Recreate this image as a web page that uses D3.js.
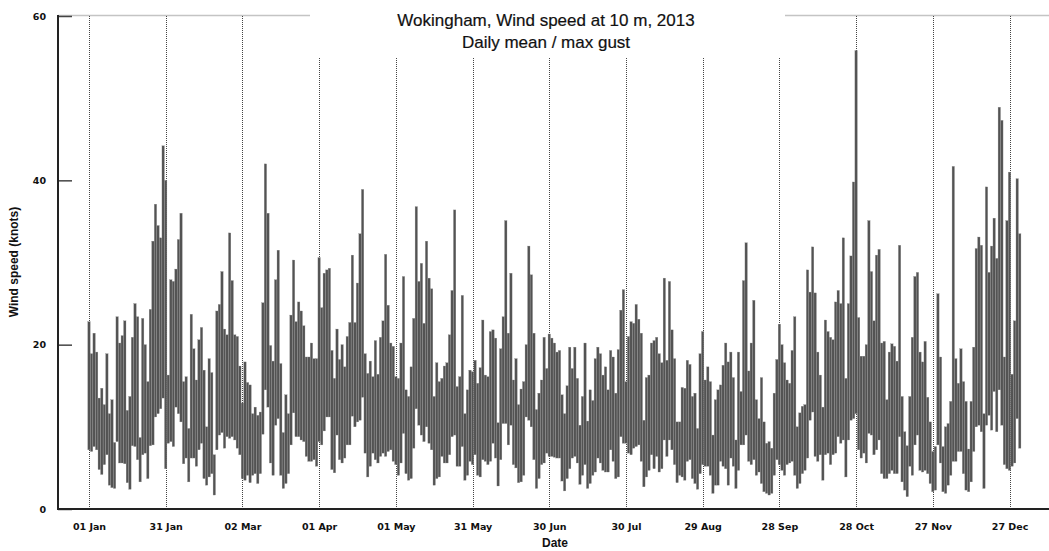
<!DOCTYPE html>
<html>
<head>
<meta charset="utf-8">
<script src="https://d3js.org/d3.v7.min.js"></script>
<style>
  body{margin:0;background:#fff;}
  .xaxis text, .yaxis text{font-family:"DejaVu Sans",Verdana,sans-serif;font-weight:bold;font-size:9.5px;fill:#111;}
  .title{font-family:"Liberation Sans",Arial,sans-serif;font-size:17px;fill:#111;stroke:#111;stroke-width:0.2px;}
  .axislabel{font-family:"Liberation Sans",Arial,sans-serif;font-weight:bold;font-size:12px;fill:#111;}
</style>
</head>
<body>
<script>
(function(){

  //pseudo-global variables
  var tickDays = [0, 30, 60, 90, 120, 150, 180, 210, 240, 270, 300, 330, 360]; //day of year for each date tick
  var tickLabels = ["01 Jan", "31 Jan", "02 Mar", "01 Apr", "01 May", "31 May", "30 Jun", "30 Jul", "29 Aug", "28 Sep", "28 Oct", "27 Nov", "27 Dec"];
  var yTicks = [0, 20, 40, 60];

  //daily max gust (knots), 1 Jan - 31 Dec 2013
  var gust = [
    22.8, 18.9, 21.4, 19.1, 13.5, 14.7, 12.7, 18.9, 11.6, 13.3,
    8.1, 23.4, 20.2, 21.1, 22.9, 12.0, 13.7, 20.9, 25.0, 23.4,
    8.7, 23.2, 20.0, 15.5, 24.3, 32.6, 37.1, 34.5, 33.0, 44.2,
    40.0, 16.3, 27.9, 27.7, 29.2, 32.8, 36.0, 15.5, 16.1, 9.8,
    23.7, 19.5, 15.7, 20.6, 22.1, 16.9, 10.0, 18.3, 16.6, 6.6,
    24.1, 24.9, 28.9, 21.9, 21.2, 33.6, 27.8, 21.2, 21.0, 17.4,
    12.9, 17.9, 15.4, 15.1, 11.6, 12.4, 11.4, 11.8, 25.1, 42.0,
    36.0, 19.9, 18.0,
    27.9, 31.5, 17.7, 9.3, 13.9, 11.6, 23.6, 30.3, 22.8, 25.2,
    24.1, 22.3, 18.5, 18.5, 20.2, 18.3, 18.3, 30.6, 24.5, 28.7,
    29.1, 29.3, 19.3, 15.9, 21.9, 18.2, 20.0, 17.3, 21.0, 22.7,
    30.9, 22.7, 27.5, 33.5, 38.9, 18.9, 16.5, 18.0, 16.1, 20.5,
    16.4, 20.9, 22.9, 31.0, 24.8, 20.2, 19.8, 16.1, 15.9, 20.2,
    28.3, 14.5, 13.7, 17.3, 23.2, 36.8, 27.7, 29.9, 22.6, 32.6,
    28.1, 26.8, 13.7, 17.8, 15.5, 15.9, 17.4, 17.8, 21.2, 26.6,
    36.4, 14.9, 16.1, 26.0,
    11.6, 14.5, 16.9, 16.7, 18.1, 15.3, 17.2, 23.0, 16.3, 16.1,
    21.6, 21.8, 20.8, 10.5, 19.5, 23.4, 35.1, 21.4, 28.7, 15.7,
    18.3, 12.7, 14.6, 15.5, 20.0, 32.0, 28.5, 21.4, 12.1, 14.1,
    15.7, 20.9, 17.1, 21.3, 20.8, 20.2, 19.1, 19.3, 13.9, 11.6,
    15.0, 19.7, 17.1, 19.7, 15.9, 10.2, 13.7, 20.2, 10.7, 14.5,
    13.2, 18.3, 19.7, 18.9, 16.3, 17.3, 14.5, 19.3, 18.5, 14.1,
    19.4, 24.2, 26.7, 15.5, 21.0, 22.8, 22.6, 24.9, 23.1, 21.4,
    10.8, 16.0, 16.3,
    20.2, 20.5, 20.9, 18.9, 17.8, 28.1, 18.1, 27.7, 21.8, 18.3,
    10.6, 10.6, 14.8, 14.7, 18.1, 17.6, 13.7, 14.1, 9.8, 18.9,
    21.6, 15.7, 17.3, 15.5, 9.0, 13.3, 14.5, 15.1, 17.5, 20.2,
    17.9, 19.1, 16.0, 8.4, 19.1, 14.3, 27.8, 32.4, 16.8, 20.2,
    25.4, 13.3, 11.0, 16.0, 10.6, 8.0, 8.2, 7.4, 14.1, 18.2,
    22.5, 20.0, 17.8, 15.7, 15.3, 19.3, 23.4, 10.0, 11.7, 12.5,
    12.7, 29.1, 26.4, 31.9, 26.3, 19.1, 16.3, 12.4, 23.0, 21.6,
    20.9, 20.6, 25.2, 26.6,
    25.0, 33.0, 15.9, 25.0, 30.8, 39.8, 55.8, 23.3, 18.6, 18.6,
    20.0, 35.1, 28.9, 22.9, 30.9, 31.6, 20.2, 20.4, 13.3, 19.1,
    20.1, 19.8, 18.0, 32.1, 13.7, 9.4, 7.7, 13.7, 20.9, 28.3,
    28.8, 19.1, 17.9, 20.4, 13.6, 10.6, 7.0, 7.6, 26.2, 18.5,
    7.6, 10.0, 10.4, 13.1, 41.7, 18.3, 15.3, 19.5, 15.5, 13.1,
    7.3, 13.1, 19.7, 31.7, 33.1, 32.1, 11.6, 39.2, 28.8, 32.0,
    35.4, 30.5, 48.9, 47.3, 18.5, 35.1, 41.0, 16.4, 22.9, 40.2,
    33.5
  ];

  //daily mean wind speed (knots)
  var mean = [
    7.2, 7.0, 7.6, 7.2, 4.8, 4.2, 5.4, 6.6, 2.9, 2.6,
    2.5, 8.2, 5.6, 5.6, 5.5, 3.2, 2.4, 7.7, 7.6, 6.0,
    3.3, 6.6, 6.8, 3.7, 7.7, 7.8, 11.2, 11.6, 12.2, 13.5,
    4.9, 8.0, 8.2, 7.6, 12.4, 11.6, 10.6, 5.5, 6.2, 3.3,
    6.2, 6.2, 5.2, 7.2, 8.0, 3.7, 2.9, 3.9, 4.3, 1.7,
    7.2, 9.0, 9.3, 7.4, 8.8, 8.6, 8.8, 8.4, 7.4, 6.6,
    3.7, 3.5, 4.1, 3.2, 4.1, 4.3, 3.1, 4.3, 9.1, 14.5,
    12.4, 5.6, 4.1,
    10.2, 11.0, 4.1, 2.5, 3.1, 4.3, 7.8, 11.7, 8.8, 8.8,
    8.4, 8.2, 6.4, 5.8, 5.8, 6.0, 5.2, 8.2, 7.8, 9.5,
    11.2, 11.2, 4.8, 4.4, 9.0, 6.0, 5.6, 6.2, 7.8, 7.8,
    11.3, 10.0, 10.6, 10.8, 13.6, 6.8, 3.9, 5.2, 6.8, 6.0,
    5.6, 6.4, 6.8, 6.4, 7.0, 7.2, 5.8, 5.4, 4.1, 5.6,
    9.2, 4.3, 3.5, 3.7, 7.4, 12.2, 10.2, 9.0, 8.2, 10.0,
    8.0, 7.2, 2.9, 3.7, 3.9, 6.4, 5.6, 5.6, 6.6, 8.8,
    9.0, 5.2, 5.2, 7.6,
    3.5, 4.1, 5.8, 5.4, 6.6, 4.1, 3.9, 6.0, 5.8, 5.4,
    5.8, 8.0, 6.2, 2.8, 6.0, 10.4, 10.4, 7.8, 10.2, 5.4,
    5.0, 3.2, 3.3, 4.1, 11.2, 10.8, 10.0, 6.0, 2.5, 3.7,
    5.4, 5.6, 6.8, 6.4, 6.4, 6.3, 6.2, 6.2, 3.4, 2.2,
    3.7, 4.9, 6.2, 6.4, 5.6, 3.0, 4.1, 5.4, 2.5, 3.1,
    4.1, 4.5, 6.2, 5.6, 4.7, 4.5, 4.5, 7.2, 5.8, 3.7,
    3.9, 8.8, 8.0, 8.0, 6.8, 6.6, 7.4, 7.6, 7.8, 5.8,
    2.7, 3.9, 4.7,
    6.6, 4.9, 6.4, 4.5, 4.9, 8.4, 6.4, 8.4, 7.2, 5.4,
    3.2, 4.1, 3.9, 3.5, 5.8, 6.0, 3.7, 3.1, 2.4, 4.3,
    5.4, 5.2, 5.2, 4.1, 1.9, 2.9, 2.9, 5.8, 5.2, 4.9,
    2.9, 6.2, 5.2, 2.5, 4.7, 7.8, 7.8, 9.0, 5.8, 5.4,
    6.0, 4.1, 4.5, 3.1, 2.1, 1.9, 1.7, 1.9, 4.1, 6.0,
    5.4, 4.7, 4.1, 5.4, 5.6, 5.8, 4.1, 2.5, 3.1, 4.3,
    4.7, 6.2, 10.8, 11.8, 6.4, 5.8, 6.6, 3.5, 6.6, 6.8,
    5.4, 6.6, 6.8, 8.8,
    8.0, 8.4, 3.9, 8.4, 10.8, 11.0, 11.6, 7.2, 6.2, 6.8,
    5.6, 9.2, 9.0, 6.6, 7.2, 8.4, 4.3, 3.7, 3.7, 4.3,
    4.7, 4.3, 4.3, 8.8, 3.3, 2.3, 1.5, 5.2, 4.1, 7.8,
    9.0, 4.7, 4.5, 4.7, 4.3, 3.1, 2.1, 2.3, 7.8, 5.6,
    2.1, 1.9, 2.9, 4.1, 5.8, 5.8, 7.0, 7.0, 4.3, 2.3,
    2.1, 3.3, 7.0, 10.0, 10.2, 9.4, 2.5, 10.2, 11.4, 9.6,
    14.3, 9.4, 14.5, 10.2, 5.4, 4.9, 4.7, 5.2, 5.6, 11.0,
    7.4
  ];

  window.onload = drawChart(); //begin script when window loads

  function drawChart(){
    var width = 1049, //svg frame dimensions
        height = 551;

    var left = 58, right = 1049, top = 16, bottom = 509; //plot frame

    var svg = d3.select("body")
      .append("svg")
      .attr("width", width)
      .attr("height", height);

    var x = d3.scaleLinear() //day of year -> pixel
      .domain([0, 364])
      .range([89, 89 + 364 * 2.557]);

    var y = d3.scaleLinear() //knots -> pixel
      .domain([0, 60])
      .range([bottom, top]);

    //light top border of the frame
    svg.append("line")
      .attr("x1", left).attr("x2", right)
      .attr("y1", top - 0.5).attr("y2", top - 0.5)
      .style("stroke", "#c4c4c4")
      .style("stroke-width", 1.5);

    //dotted vertical grid at each date tick
    svg.selectAll(".grid")
      .data(tickDays)
      .enter()
      .append("line")
      .attr("class", "grid")
      .attr("x1", function(d){ return Math.round(x(d)) + 0.5; })
      .attr("x2", function(d){ return Math.round(x(d)) + 0.5; })
      .attr("y1", top)
      .attr("y2", bottom)
      .style("stroke", "#444")
      .style("stroke-width", 1)
      .style("stroke-dasharray", "1,1");

    //one bar per day, from mean up to max gust
    var days = d3.range(gust.length);
    svg.selectAll(".bar")
      .data(days)
      .enter()
      .append("rect")
      .attr("class", "bar")
      .attr("x", function(d){ return x(d) - 1.2; })
      .attr("width", 2.4)
      .attr("y", function(d){ return y(gust[d]); })
      .attr("height", function(d){ return y(mean[d]) - y(gust[d]); })
      .style("fill", "#535353")
      .style("stroke", "#8c8c8c")
      .style("stroke-width", 0.3);

    //y axis: inward ticks, bold labels
    var yAxis = svg.append("g")
      .attr("class", "yaxis")
      .attr("transform", "translate(" + left + ",0)")
      .call(d3.axisRight(y).tickValues(yTicks).tickSize(14).tickFormat(d3.format("d")));
    yAxis.select(".domain").remove();
    yAxis.selectAll(".tick line").style("stroke", "#444").style("stroke-width", 1.5);
    yAxis.selectAll(".tick text")
      .attr("x", -12)
      .attr("dy", "0.35em")
      .style("text-anchor", "end");

    //x axis labels only
    var xAxis = svg.append("g")
      .attr("class", "xaxis")
      .attr("transform", "translate(0," + bottom + ")")
      .call(d3.axisBottom(x).tickValues(tickDays).tickSize(0).tickPadding(14)
        .tickFormat(function(d, i){ return tickLabels[i]; }));
    xAxis.select(".domain").remove();

    //axis lines
    svg.append("line")
      .attr("x1", left).attr("x2", left)
      .attr("y1", top - 1).attr("y2", bottom + 1)
      .style("stroke", "#222").style("stroke-width", 2);
    svg.append("line")
      .attr("x1", left).attr("x2", right)
      .attr("y1", bottom).attr("y2", bottom)
      .style("stroke", "#222").style("stroke-width", 2);

    //title block sits on a white patch over the frame
    svg.append("rect")
      .attr("x", 310).attr("y", 0)
      .attr("width", 475).attr("height", 57)
      .style("fill", "#fff");

    svg.append("text")
      .attr("class", "title")
      .attr("x", 546).attr("y", 26)
      .style("text-anchor", "middle")
      .text("Wokingham, Wind speed at 10 m, 2013");
    svg.append("text")
      .attr("class", "title")
      .attr("x", 546).attr("y", 48)
      .style("text-anchor", "middle")
      .text("Daily mean / max gust");

    //axis titles
    svg.append("text")
      .attr("class", "axislabel")
      .attr("x", 555).attr("y", 547)
      .style("text-anchor", "middle")
      .text("Date");
    svg.append("text")
      .attr("class", "axislabel")
      .attr("transform", "translate(18,262) rotate(-90)")
      .style("text-anchor", "middle")
      .text("Wind speed (knots)");
  };
})();
</script>
</body>
</html>
